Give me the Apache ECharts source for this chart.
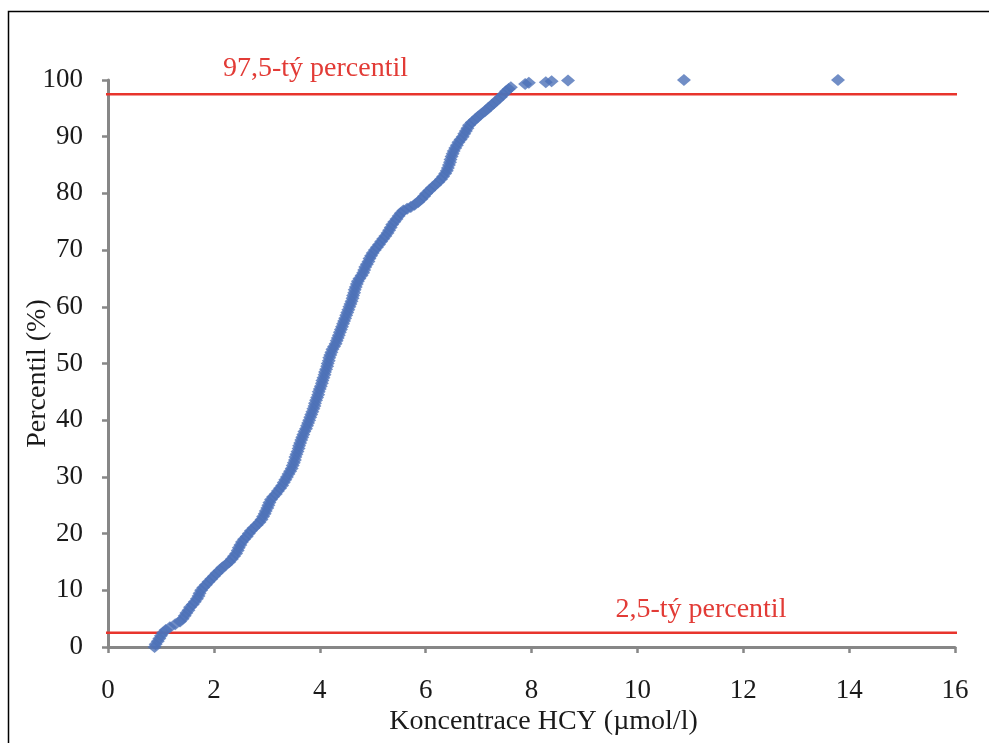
<!DOCTYPE html>
<html>
<head>
<meta charset="utf-8">
<script src="https://cdn.jsdelivr.net/npm/echarts@6/dist/echarts.min.js"></script>
<style>
  html, body { margin: 0; padding: 0; background: #ffffff; }
  #chart { width: 989px; height: 743px; }
</style>
</head>
<body>
<div id="chart"></div>
<script>
// HCY concentration of each sample (µmol/l), sorted ascending
const concentration = [
  0.88, 0.90, 0.94, 0.97, 1.00, 1.04, 1.09, 1.17, 1.27, 1.36,
  1.41, 1.45, 1.48, 1.52, 1.55, 1.60, 1.64, 1.68, 1.71, 1.73,
  1.76, 1.80, 1.85, 1.90, 1.95, 2.00, 2.05, 2.11, 2.16, 2.23,
  2.29, 2.34, 2.38, 2.42, 2.45, 2.47, 2.50, 2.53, 2.57, 2.62,
  2.66, 2.70, 2.75, 2.81, 2.86, 2.90, 2.93, 2.96, 2.98, 3.01,
  3.03, 3.05, 3.08, 3.12, 3.17, 3.21, 3.25, 3.29, 3.32, 3.35,
  3.38, 3.41, 3.44, 3.47, 3.49, 3.51, 3.53, 3.54, 3.56, 3.58,
  3.60, 3.61, 3.63, 3.65, 3.67, 3.69, 3.71, 3.74, 3.76, 3.78,
  3.80, 3.82, 3.84, 3.86, 3.88, 3.90, 3.91, 3.93, 3.95, 3.97,
  3.98, 4.00, 4.02, 4.04, 4.05, 4.07, 4.09, 4.10, 4.12, 4.14,
  4.15, 4.17, 4.18, 4.20, 4.22, 4.24, 4.27, 4.30, 4.32, 4.34,
  4.36, 4.38, 4.40, 4.42, 4.44, 4.46, 4.48, 4.50, 4.52, 4.54,
  4.56, 4.58, 4.60, 4.62, 4.63, 4.65, 4.66, 4.68, 4.70, 4.72,
  4.75, 4.79, 4.82, 4.84, 4.86, 4.89, 4.92, 4.94, 4.97, 5.00,
  5.04, 5.08, 5.12, 5.16, 5.20, 5.24, 5.28, 5.31, 5.34, 5.37,
  5.41, 5.45, 5.49, 5.53, 5.58, 5.65, 5.72, 5.79, 5.86, 5.92,
  5.97, 6.01, 6.07, 6.12, 6.18, 6.24, 6.29, 6.33, 6.37, 6.40,
  6.42, 6.44, 6.46, 6.47, 6.49, 6.51, 6.53, 6.56, 6.59, 6.62,
  6.66, 6.70, 6.73, 6.76, 6.79, 6.82, 6.87, 6.93, 6.99, 7.05,
  7.12, 7.18, 7.24, 7.30, 7.36, 7.42, 7.47, 7.52, 7.57, 7.61,
  7.88, 7.95, 8.27, 8.38, 8.69, 10.88, 13.79
];

// Percentile rank of each sample (%)
const percentile = [
  0.0, 0.5, 1.0, 1.5, 2.0, 2.5, 3.0, 3.5, 4.0, 4.5,
  5.0, 5.5, 6.0, 6.5, 7.0, 7.5, 8.0, 8.5, 9.0, 9.5,
  10.0, 10.5, 11.0, 11.5, 12.0, 12.5, 13.0, 13.5, 14.0, 14.5,
  15.0, 15.5, 16.0, 16.5, 17.0, 17.5, 18.0, 18.5, 19.0, 19.5,
  20.0, 20.5, 21.0, 21.5, 22.0, 22.5, 23.0, 23.5, 24.0, 24.5,
  25.0, 25.5, 26.0, 26.5, 27.0, 27.5, 28.0, 28.5, 29.0, 29.5,
  30.0, 30.5, 31.0, 31.5, 32.0, 32.5, 33.0, 33.5, 34.0, 34.5,
  35.0, 35.5, 36.0, 36.5, 37.0, 37.5, 38.0, 38.5, 39.0, 39.5,
  40.0, 40.5, 41.0, 41.5, 42.0, 42.5, 43.0, 43.5, 44.0, 44.5,
  45.0, 45.5, 46.0, 46.5, 47.0, 47.5, 48.0, 48.5, 49.0, 49.5,
  50.0, 50.5, 51.0, 51.5, 52.0, 52.5, 53.0, 53.5, 54.0, 54.5,
  55.0, 55.5, 56.0, 56.5, 57.0, 57.5, 58.0, 58.5, 59.0, 59.5,
  60.0, 60.5, 61.0, 61.5, 62.0, 62.5, 63.0, 63.5, 64.0, 64.5,
  65.0, 65.5, 66.0, 66.5, 67.0, 67.5, 68.0, 68.5, 69.0, 69.5,
  70.0, 70.5, 71.0, 71.5, 72.0, 72.5, 73.0, 73.5, 74.0, 74.5,
  75.0, 75.5, 76.0, 76.5, 77.0, 77.3, 77.6, 78.0, 78.5, 79.0,
  79.5, 80.0, 80.5, 81.0, 81.5, 82.0, 82.5, 83.0, 83.5, 84.0,
  84.5, 85.0, 85.5, 86.0, 86.5, 87.0, 87.5, 88.0, 88.5, 89.0,
  89.5, 90.0, 90.5, 91.0, 91.5, 92.0, 92.5, 93.0, 93.5, 94.0,
  94.5, 95.0, 95.5, 96.0, 96.5, 97.0, 97.5, 98.0, 98.4, 98.7,
  99.3, 99.5, 99.6, 99.8, 99.9, 100.0, 100.0
];

// Reference percentile lines and their captions
const referenceLevels = [97.5, 2.5];
const referenceLabels = ['97,5-tý percentil', '2,5-tý percentil'];
const referenceLabelX = [3.92, 11.2];

// Axis ranges and tick steps
const xRange = [0, 16], xStep = 2;
const yRange = [0, 100], yStep = 10;

const serif = "'Liberation Serif', 'Times New Roman', serif";
const axisGrey = '#878787';
const markerBlue = '#4d72b8';
const lineRed = '#e8342c';
const captionOffsets = [-26, -23];

const points = concentration.map((c, i) => [c, percentile[i]]);

const referenceSeries = referenceLevels.map((level, i) => ({
  type: 'line',
  silent: true,
  clip: false,
  symbol: 'none',
  z: 1,
  lineStyle: { color: lineRed, width: 2.5 },
  data: [[xRange[0] - 0.18, level], [xRange[1] + 0.06, level]],
  markPoint: {
    symbol: 'circle',
    symbolSize: 0,
    label: {
      show: true,
      formatter: referenceLabels[i],
      color: '#e23b36',
      fontFamily: serif,
      fontSize: 28,
      offset: [0, captionOffsets[i]]
    },
    data: [{ coord: [referenceLabelX[i], level] }]
  }
}));

const chart = echarts.init(document.getElementById('chart'), null, { renderer: 'canvas' });

chart.setOption({
  animation: false,
  backgroundColor: '#ffffff',
  grid: { left: 108, right: 34, top: 80, bottom: 96, outerBoundsMode: 'none', containLabel: false },
  xAxis: {
    type: 'value',
    min: xRange[0], max: xRange[1], interval: xStep,
    name: 'Koncentrace HCY (µmol/l)',
    nameLocation: 'middle',
    nameGap: 61,
    nameMoveOverlap: false,
    nameTextStyle: { fontFamily: serif, fontSize: 28, color: '#1a1a1a', padding: [0, 0, 0, 24] },
    axisLine: { show: true, lineStyle: { color: axisGrey, width: 3 } },
    axisTick: { show: true, length: 6, lineStyle: { color: axisGrey, width: 2.5 } },
    splitLine: { show: false },
    axisLabel: { fontFamily: serif, fontSize: 27, color: '#1a1a1a', margin: 30 }
  },
  yAxis: {
    type: 'value',
    min: yRange[0], max: yRange[1], interval: yStep,
    name: 'Percentil (%)',
    nameLocation: 'middle',
    nameGap: 56,
    nameMoveOverlap: false,
    nameTextStyle: { fontFamily: serif, fontSize: 28, color: '#1a1a1a', padding: [0, 20, 0, 0] },
    axisLine: { show: true, lineStyle: { color: axisGrey, width: 3 } },
    axisTick: { show: true, length: 6, lineStyle: { color: axisGrey, width: 2.5 } },
    splitLine: { show: false },
    axisLabel: { fontFamily: serif, fontSize: 27, color: '#1a1a1a', margin: 25 }
  },
  graphic: [{
    type: 'rect',
    left: 6, top: 9,
    shape: { width: 1000, height: 800 },
    style: { fill: 'none', stroke: '#000000', lineWidth: 1.5 },
    silent: true
  }],
  series: [
    ...referenceSeries,
    {
      type: 'scatter',
      z: 2,
      symbol: 'diamond',
      symbolSize: [14, 12],
      itemStyle: { color: markerBlue },
      data: points
    }
  ]
});
</script>
</body>
</html>
